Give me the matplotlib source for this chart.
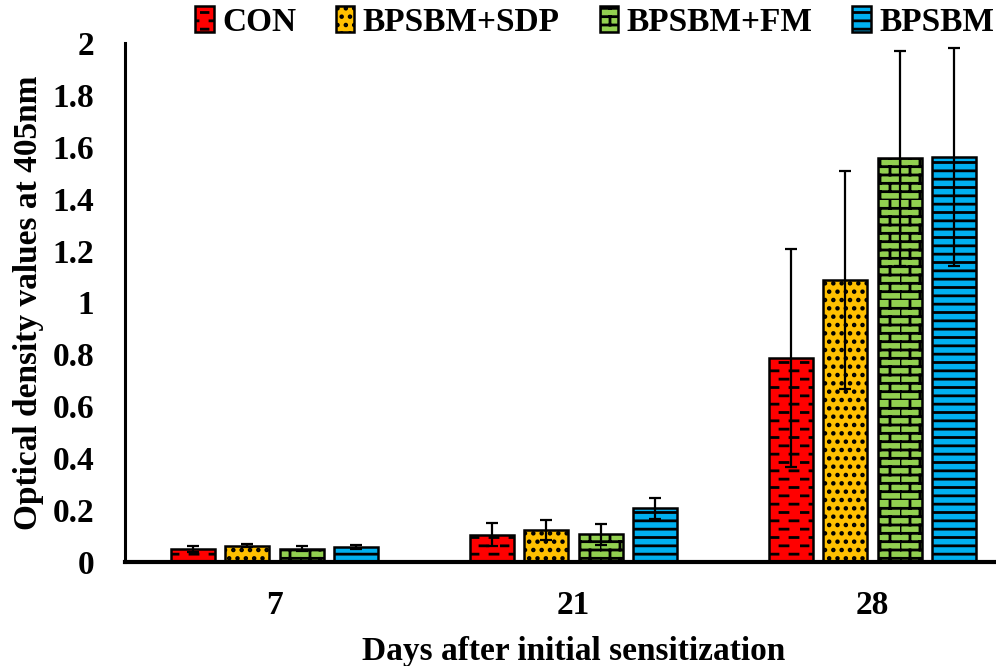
import numpy as np
import matplotlib
matplotlib.use('Agg')
import matplotlib.pyplot as plt
import matplotlib.hatch as mhatch
from matplotlib.path import Path

# data
days = ['7', '21', '28']
groups = ['CON', 'BPSBM+SDP', 'BPSBM+FM', 'BPSBM']
con_mean = [0.050, 0.105, 0.785]
con_err = [0.010, 0.045, 0.420]
sdp_mean = [0.062, 0.123, 1.088]
sdp_err = [0.006, 0.040, 0.420]
fm_mean = [0.052, 0.107, 1.555]
fm_err = [0.008, 0.040, 0.415]
bps_mean = [0.058, 0.207, 1.562]
bps_err = [0.008, 0.040, 0.420]

colors = ['#FF0000', '#FFC000', '#92D050', '#00B0F0']
hatches = ['*', '..', 'x', '--']


class BrickHatch(mhatch.HatchPatternBase):
    """ brick wall pattern, used in place of the 'x' hatch """
    rows, cols = 12, 5

    def __init__(self, hatch, density):
        n = hatch.count('x')
        self.num_vertices = (self.rows * 2 + self.rows * self.cols * 2) if n else 0

    def set_vertices_and_codes(self, vertices, codes):
        k = 0
        for r in range(self.rows):
            y = r / self.rows
            vertices[k] = (0, y); vertices[k + 1] = (1, y)
            codes[k] = Path.MOVETO; codes[k + 1] = Path.LINETO
            k += 2
        for r in range(self.rows):
            y0, y1 = r / self.rows, (r + 1) / self.rows
            for c in range(self.cols):
                x = c / self.cols + (r % 2) * 0.5 / self.cols
                vertices[k] = (x, y0); vertices[k + 1] = (x, y1)
                codes[k] = Path.MOVETO; codes[k + 1] = Path.LINETO
                k += 2


class DashHatch(mhatch.HatchPatternBase):
    """ staggered short dashes, used in place of the '*' hatch """
    rows, cols = 12, 5

    def __init__(self, hatch, density):
        n = hatch.count('*')
        self.num_vertices = self.rows * self.cols * 2 if n else 0

    def set_vertices_and_codes(self, vertices, codes):
        k = 0
        for r in range(self.rows):
            y = (r + 0.5) / self.rows
            for c in range(self.cols):
                x = c / self.cols + (r % 2) * 0.5 / self.cols
                vertices[k] = (x, y); vertices[k + 1] = (x + 0.08, y)
                codes[k] = Path.MOVETO; codes[k + 1] = Path.LINETO
                k += 2


mhatch._hatch_types = [mhatch.HorizontalHatch, mhatch.SmallFilledCircles,
                       BrickHatch, DashHatch]

plt.rcParams['font.family'] = ['Liberation Serif', 'DejaVu Serif']
plt.rcParams['font.weight'] = 'bold'
plt.rcParams['hatch.linewidth'] = 2.0
plt.rcParams['hatch.color'] = 'black'

fig = plt.figure(figsize=(9.96, 6.66), dpi=100)
ax = fig.add_axes([125 / 996, 104 / 666, 897 / 996, 519 / 666])

means = [con_mean, sdp_mean, fm_mean, bps_mean]
errs = [con_err, sdp_err, fm_err, bps_err]
x = np.arange(len(days))
width = 0.147
step = 0.182
for i in range(4):
    ax.bar(x + (i - 1.5) * step, means[i], width, color=colors[i],
           edgecolor='black', linewidth=1.8, hatch=hatches[i], label=groups[i],
           yerr=errs[i], error_kw=dict(ecolor='black', elinewidth=1.6,
                                       capsize=4.5, capthick=1.6))

ax.set_xlim(-0.5, 2.5)
ax.set_ylim(0, 2)
ax.set_xticks(x)
ax.set_xticklabels(days)
yt = np.arange(0, 2.01, 0.2)
ax.set_yticks(yt)
ax.set_yticklabels(['0', '0.2', '0.4', '0.6', '0.8', '1', '1.2', '1.4', '1.6', '1.8', '2'])
ax.tick_params(axis='both', length=0, labelsize=24)
ax.tick_params(axis='y', pad=22)
ax.tick_params(axis='x', pad=20)
for s in ['top', 'right']:
    ax.spines[s].set_visible(False)
ax.spines['bottom'].set_linewidth(3)
ax.spines['left'].set_linewidth(2.2)

ax.set_ylabel('Optical density values at 405nm', fontsize=24, fontweight='bold', labelpad=6)
ax.set_xlabel('Days after initial sensitization', fontsize=24, fontweight='bold', labelpad=11)

fig.legend(loc='center', bbox_to_anchor=(0.597, 1 - 22 / 666), ncol=4, frameon=False,
           fontsize=24, handlelength=0.55, handleheight=0.8, handletextpad=0.25,
           columnspacing=1.2, borderaxespad=0)

fig.savefig('out.png', dpi=100)
